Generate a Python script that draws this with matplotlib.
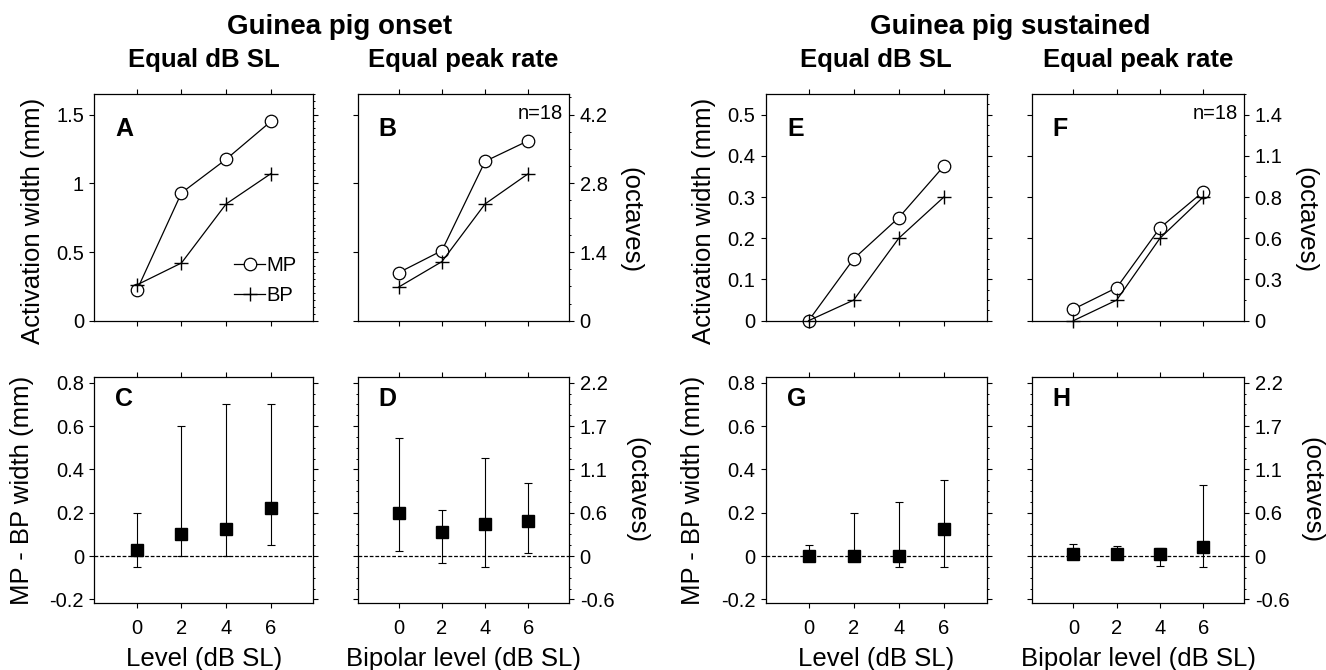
import matplotlib
matplotlib.use("Agg")
import matplotlib.pyplot as plt
from matplotlib.ticker import MultipleLocator

# stimulus levels (dB SL)
levels = [0, 2, 4, 6]

# activation widths (mm), top row
onset_sl_mp = [0.22, 0.93, 1.175, 1.45]
onset_sl_bp = [0.26, 0.42, 0.85, 1.07]
onset_pr_mp = [0.35, 0.51, 1.16, 1.31]
onset_pr_bp = [0.245, 0.43, 0.85, 1.07]
sust_sl_mp = [0.0, 0.15, 0.25, 0.375]
sust_sl_bp = [0.0, 0.05, 0.2, 0.3]
sust_pr_mp = [0.028, 0.08, 0.225, 0.313]
sust_pr_bp = [0.0, 0.05, 0.2, 0.3]

# MP - BP width differences (mm), bottom row: median, lower, upper
onset_sl_diff = [0.026, 0.1, 0.123, 0.223]
onset_sl_lo = [-0.05, 0.0, 0.0, 0.05]
onset_sl_hi = [0.2, 0.6, 0.7, 0.7]
onset_pr_diff = [0.2, 0.11, 0.149, 0.162]
onset_pr_lo = [0.023, -0.031, -0.05, 0.015]
onset_pr_hi = [0.546, 0.212, 0.451, 0.338]
sust_sl_diff = [0.0, 0.0, 0.0, 0.123]
sust_sl_lo = [0.0, 0.0, -0.05, -0.05]
sust_sl_hi = [0.05, 0.2, 0.25, 0.35]
sust_pr_diff = [0.008, 0.008, 0.011, 0.041]
sust_pr_lo = [0.0, 0.0, -0.046, -0.051]
sust_pr_hi = [0.057, 0.048, 0.038, 0.33]

# y ticks (mm) and the matching octave labels on the right
onset_top_ticks = [0, 0.5, 1, 1.5]
onset_top_oct = ["0", "1.4", "2.8", "4.2"]
sust_top_ticks = [0, 0.1, 0.2, 0.3, 0.4, 0.5]
sust_top_oct = ["0", "0.3", "0.6", "0.8", "1.1", "1.4"]
diff_ticks = [-0.2, 0, 0.2, 0.4, 0.6, 0.8]
diff_oct = ["-0.6", "0", "0.6", "1.1", "1.7", "2.2"]

plt.rcParams.update({
    "font.family": ["Liberation Sans", "DejaVu Sans"],
    "font.size": 14.5,
    "axes.linewidth": 0.9,
    "xtick.direction": "out",
    "ytick.direction": "out",
    "xtick.major.size": 3.5,
    "ytick.major.size": 3.5,
    "ytick.minor.size": 1.6,
    "xtick.major.width": 0.8,
    "ytick.major.width": 0.8,
    "ytick.minor.width": 0.7,
})

W, H = 1326, 670
fig = plt.figure(figsize=(W / 100, H / 100), dpi=100)

cols = [(94.3, 219.0), (357.7, 211.6), (765.7, 221.0), (1032.3, 212.0)]
rows = [(94.0, 226.7), (377.3, 226.0)]


def make_ax(col, row):
    x0, w = cols[col]
    y0, h = rows[row]
    return fig.add_axes([x0 / W, 1 - (y0 + h) / H, w / W, h / H])


def style(ax, ticks, labels, ylim, minor, right_labels, bottom_labels,
          minor_left=False):
    ax.set_xlim(-1.9, 7.9)
    ax.set_ylim(*ylim)
    ax.set_xticks(levels)
    ax.set_yticks(ticks)
    ax.yaxis.set_minor_locator(MultipleLocator(minor))
    ax.tick_params(axis="x", top=True, bottom=True, labelbottom=bottom_labels, pad=8)
    ax.tick_params(axis="y", which="major", left=True, right=True, pad=4)
    ax.tick_params(axis="y", which="minor", left=minor_left, right=True)
    if right_labels:
        ax.set_yticklabels(labels)
        ax.tick_params(axis="y", labelleft=False, labelright=True)
    else:
        ax.set_yticklabels([f"{t:g}" for t in ticks])


def line_panel(ax, mp, bp):
    ax.plot(levels, mp, color="black", lw=0.9, marker="o", ms=9,
            mfc="white", mec="black", mew=0.9, label="MP", clip_on=False, zorder=3)
    ax.plot(levels, bp, color="black", lw=0.9, marker="+", ms=10,
            mew=1.0, label="BP", clip_on=False, zorder=3)


def diff_panel(ax, mid, lo, hi):
    ax.axhline(0, color="black", lw=0.9, ls=(0, (3, 1.5)), zorder=1)
    err = [[m - l for m, l in zip(mid, lo)], [h - m for m, h in zip(mid, hi)]]
    ax.errorbar(levels, mid, yerr=err, fmt="s", color="black", ms=8,
                elinewidth=0.8, capsize=3, capthick=0.8, zorder=3)


def letter(ax, s, y):
    ax.text(0.096, y, s, transform=ax.transAxes, fontsize=18,
            fontweight="bold", va="baseline", ha="left")


def octaves(ax, y, x):
    ax.text(x, y, "(octaves)", transform=ax.transAxes, rotation=270,
            ha="center", va="center", fontsize=18.5)


# top row
axA = make_ax(0, 0)
line_panel(axA, onset_sl_mp, onset_sl_bp)
style(axA, onset_top_ticks, None, (0, 1.65), 0.05, False, False)
axA.legend(loc="lower left", bbox_to_anchor=(0.64, 0.07), frameon=False,
           fontsize=14.5, handlelength=1.5, handletextpad=0.1,
           labelspacing=0.55, borderpad=0, borderaxespad=0)
letter(axA, "A", 0.815)

axB = make_ax(1, 0)
line_panel(axB, onset_pr_mp, onset_pr_bp)
style(axB, onset_top_ticks, onset_top_oct, (0, 1.65), 0.125, True, False)
letter(axB, "B", 0.815)

axE = make_ax(2, 0)
line_panel(axE, sust_sl_mp, sust_sl_bp)
style(axE, sust_top_ticks, None, (0, 0.55), 0.025, False, False)
letter(axE, "E", 0.815)

axF = make_ax(3, 0)
line_panel(axF, sust_pr_mp, sust_pr_bp)
style(axF, sust_top_ticks, sust_top_oct, (0, 0.55), 0.05, True, False)
letter(axF, "F", 0.815)

for ax in (axB, axF):
    ax.text(0.972, 0.888, "n=18", transform=ax.transAxes, ha="right",
            va="baseline", fontsize=14.5)

# bottom row
axC = make_ax(0, 1)
diff_panel(axC, onset_sl_diff, onset_sl_lo, onset_sl_hi)
style(axC, diff_ticks, None, (-0.218, 0.825), 0.05, False, True)
letter(axC, "C", 0.872)

axD = make_ax(1, 1)
diff_panel(axD, onset_pr_diff, onset_pr_lo, onset_pr_hi)
style(axD, diff_ticks, diff_oct, (-0.218, 0.825), 0.05, True, True, True)
letter(axD, "D", 0.872)

axG = make_ax(2, 1)
diff_panel(axG, sust_sl_diff, sust_sl_lo, sust_sl_hi)
style(axG, diff_ticks, None, (-0.218, 0.825), 0.05, False, True)
letter(axG, "G", 0.872)

axH = make_ax(3, 1)
diff_panel(axH, sust_pr_diff, sust_pr_lo, sust_pr_hi)
style(axH, diff_ticks, diff_oct, (-0.218, 0.825), 0.05, True, True, True)
letter(axH, "H", 0.872)

# axis labels
for ax in (axA, axE):
    ax.set_ylabel("Activation width (mm)", fontsize=18.5)
    ax.yaxis.set_label_coords(-0.225, 0.442)
for ax in (axC, axG):
    ax.set_ylabel("MP - BP width (mm)", fontsize=18.5)
    ax.yaxis.set_label_coords(-0.275, 0.5)
for ax in (axB, axF):
    octaves(ax, 0.442, 1.29)
for ax in (axD, axH):
    octaves(ax, 0.5, 1.315)
for ax in (axC, axG):
    ax.set_xlabel("Level (dB SL)", fontsize=18.5, labelpad=6)
for ax in (axD, axH):
    ax.set_xlabel("Bipolar level (dB SL)", fontsize=18.5, labelpad=6)

# titles
fig.text(340 / W, 1 - 34 / H, "Guinea pig onset", ha="center",
         va="baseline", fontsize=20, fontweight="bold")
fig.text(1010 / W, 1 - 34 / H, "Guinea pig sustained", ha="center",
         va="baseline", fontsize=20, fontweight="bold")
for ax, s in ((axA, "Equal dB SL"), (axB, "Equal peak rate"),
              (axE, "Equal dB SL"), (axF, "Equal peak rate")):
    bb = ax.get_position()
    fig.text((bb.x0 + bb.x1) / 2, 1 - 66.7 / H, s, ha="center",
             va="baseline", fontsize=18.5, fontweight="bold")

fig.savefig("out.png", dpi=100)
